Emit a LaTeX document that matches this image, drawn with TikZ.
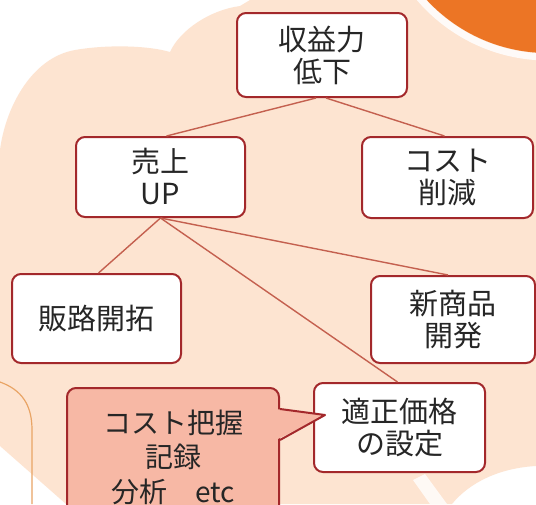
\documentclass[tikz,border=0pt]{standalone}
\usepackage{fontspec}
\newfontfamily\jpfont{Noto Sans CJK JP}
\usetikzlibrary{calc}
\definecolor{boxred}{HTML}{A3282B}
\definecolor{linkred}{HTML}{C4604F}
\definecolor{peach}{HTML}{FDE4D1}
\definecolor{sunorange}{HTML}{EC7525}
\definecolor{memopink}{HTML}{F7B8A5}
\definecolor{edgeorange}{HTML}{E9A465}
\tikzset{
  box/.style={draw=boxred, line width=2pt, fill=white, rounded corners=9pt, align=center,
    inner sep=0pt, text=black!85, font=\jpfont\fontsize{29}{32}\selectfont},
  memo/.style={box, fill=memopink, font=\jpfont\fontsize{28}{34.5}\selectfont},
  link/.style={draw=linkred, line width=1.4pt},
}

\begin{document}
\begin{tikzpicture}[x=1pt, y=-1pt]
	%%%%% START %%%%%
	\clip (0,0) rectangle (536,504);
	\fill[white] (0,0) rectangle (536,504);
	
	% peach cloud
	\fill[peach] (0,150) .. controls (5,110) and (30,58) .. (75,50)
		.. controls (110,44) and (150,46) .. (170,52)
		.. controls (180,30) and (210,10) .. (240,6) -- (250,0) -- (536,0) -- (536,466)
		.. controls (500,468) and (470,482) .. (452,504) -- (66,504) -- (0,446) -- cycle;
	\fill[white, opacity=0.8] (413,480) -- (425,474) -- (447,504) -- (430,504) -- cycle;
	\draw[edgeorange, line width=1.2pt] (0,382) .. controls (22,390) and (32,405) .. (32,430) -- (32,504);
	
	% sun
	\draw[white, line width=7pt, opacity=0.85] (548,-112) circle[radius=169pt];
	\fill[sunorange] (548,-112) circle[radius=165pt];
	
	% boxes
	\node[box, minimum width=170pt, minimum height=84pt] (drop) at (322,55) {収益力\\低下};
	\node[box, minimum width=169pt, minimum height=80pt] (sales) at (160.5,177) {売上\\UP};
	\node[box, minimum width=171pt, minimum height=81pt] (cut) at (447.5,177.5) {コスト\\削減};
	\node[box, minimum width=169pt, minimum height=89pt] (route) at (96.5,318.5) {販路開拓};
	\node[box, minimum width=164pt, minimum height=87pt] (newprod) at (453,319.5) {新商品\\開発};
	\node[box, minimum width=171pt, minimum height=89pt] (price) at (399.5,427.5) {適正価格\\の設定};
	
	% links
	\draw[link] ([xshift=-6pt]drop.south) -- ([xshift=6pt]sales.north);
	\draw[link] ([xshift=4pt]drop.south) -- ([xshift=-3pt]cut.north);
	\draw[link] (sales.south) -- ([xshift=2pt]route.north);
	\draw[link] (sales.south) -- ([xshift=-2pt]price.north);
	\draw[link] (sales.south) -- ([xshift=-5pt]newprod.north);
	
	% memo with tail
	\node[memo, minimum width=212pt, minimum height=138pt] (memo) at (173,457) {コスト把握\\記録\\分析　etc};
	\coordinate (tip) at (325,415);
	\fill[memopink] ([xshift=-4pt,yshift=48pt]memo.east) -- (tip) -- ([xshift=-4pt,yshift=17pt]memo.east) -- cycle;
	\draw[boxred, line width=2pt, line join=round] ([yshift=48pt]memo.east) -- (tip) -- ([yshift=17pt]memo.east);
	%%%%% END %%%%%
\end{tikzpicture}
\end{document}
